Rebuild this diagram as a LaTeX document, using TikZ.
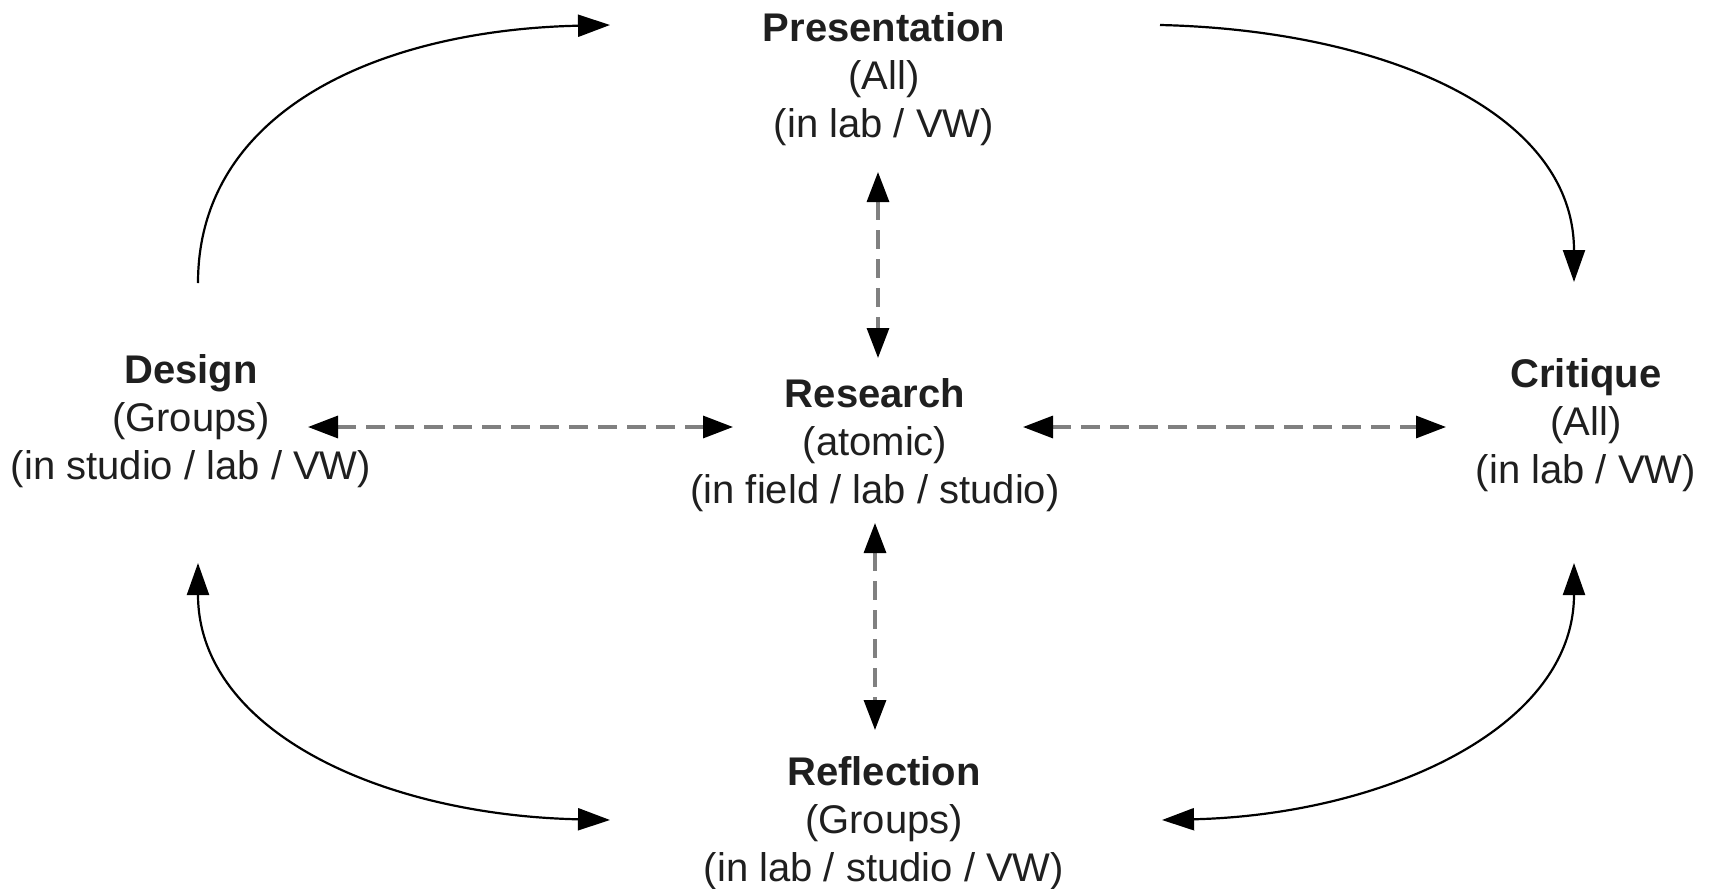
\documentclass[tikz,border=0pt]{standalone}
\usepackage{fontspec}
\setmainfont{Liberation Sans}
\usetikzlibrary{arrows.meta}
\begin{document}
\begin{tikzpicture}[x=0.5pt,y=-0.5pt,
  lbl/.style={align=center,inner sep=0pt,text=black!88,font=\fontsize{20}{24}\selectfont},
  solidarrow/.style={line width=1.1pt,black,-{Triangle[length=16pt,width=11pt]}},
  solidboth/.style={line width=1.1pt,black,{Triangle[length=16pt,width=11pt]}-{Triangle[length=16pt,width=11pt]}},
  dasharrow/.style={line width=1.6pt,black!50,dash pattern=on 9.5pt off 5pt,
    {Triangle[length=15pt,width=11pt,fill=black,color=black]}-{Triangle[length=15pt,width=11pt,fill=black,color=black]}}]
\useasboundingbox (0,0) rectangle (1715,889);
\node[lbl] (pres) at (884,79) {\textbf{Presentation}\\(All)\\(in lab / VW)};
\node[lbl] (res) at (875,445) {\textbf{Research}\\(atomic)\\(in field / lab / studio)};
\node[lbl] (des) at (191,421) {\textbf{Design}\\(Groups)\\(in studio / lab / VW)};
\node[lbl] (cri) at (1586,425) {\textbf{Critique}\\(All)\\(in lab / VW)};
\node[lbl] (ref) at (884,823) {\textbf{Reflection}\\(Groups)\\(in lab / studio / VW)};
% connector end points
\coordinate (des-n) at (198,283);
\coordinate (pres-w) at (610,25);
\coordinate (pres-e) at (1160,25);
\coordinate (cri-n) at (1574,282);
\coordinate (des-s) at (198,563);
\coordinate (ref-w) at (610,820);
\coordinate (cri-s) at (1574,563);
\coordinate (ref-e) at (1162,820);
\coordinate (des-e) at (308,427);
\coordinate (res-w) at (733,427);
\coordinate (res-e) at (1023,427);
\coordinate (cri-w) at (1446,427);
\coordinate (pres-s) at (878,172);
\coordinate (res-n) at (878,358);
\coordinate (res-s) at (875,523);
\coordinate (ref-n) at (875,730);
% solid curved arrows
\draw[solidarrow] (des-n) .. controls (198,110) and (380,30) .. (pres-w);
\draw[solidarrow] (pres-e) .. controls (1380,30) and (1574,110) .. (cri-n);
\draw[solidboth] (des-s) .. controls (198,730) and (380,815) .. (ref-w);
\draw[solidboth] (ref-e) .. controls (1380,815) and (1574,730) .. (cri-s);
% dashed arrows
\draw[dasharrow] (des-e) -- (res-w);
\draw[dasharrow] (res-e) -- (cri-w);
\draw[dasharrow] (pres-s) -- (res-n);
\draw[dasharrow] (res-s) -- (ref-n);
\end{tikzpicture}
\end{document}
